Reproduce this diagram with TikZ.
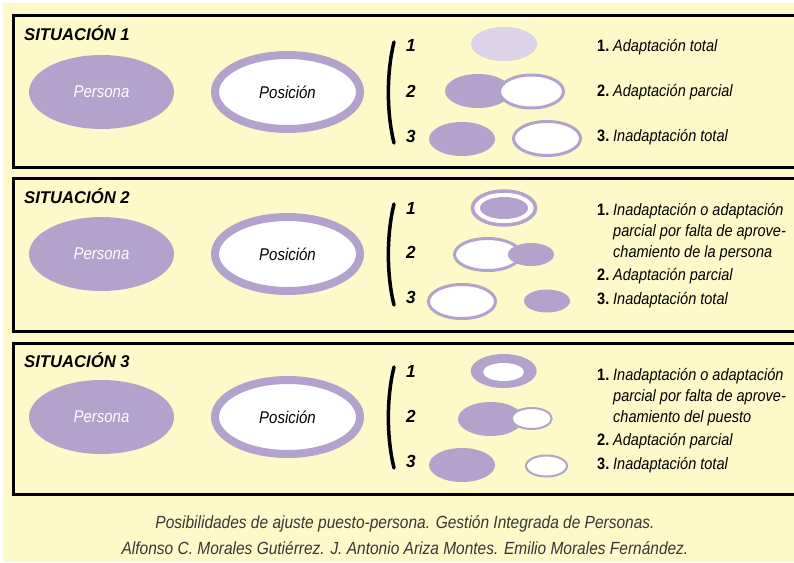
\documentclass[tikz,border=0pt]{standalone}
\usepackage{fontspec}
\setmainfont[FakeStretch=0.88]{Liberation Sans}
\newfontfamily\titlefont[FakeStretch=0.98]{Liberation Sans}
\definecolor{lilac}{RGB}{179,162,204}
\definecolor{palelilac}{RGB}{220,211,232}
\definecolor{bgyellow}{RGB}{254,249,200}
\definecolor{capgray}{RGB}{55,55,55}
\begin{document}
\begin{tikzpicture}[x=1pt,y=-1pt,
  box/.style={draw=black,line width=3pt},
  brk/.style={draw=black,line width=3.5pt,line cap=round},
  ring/.style={draw=lilac,fill=white,line width=3pt},
  thinring/.style={draw=lilac,fill=white,line width=2pt},
  bigring/.style={draw=lilac,fill=white,line width=8pt},
  title/.style={anchor=base west,inner sep=0pt,font=\titlefont\fontsize{17}{20}\selectfont\bfseries\itshape},
  num/.style={anchor=base,inner sep=0pt,font=\titlefont\fontsize{17.5}{20}\selectfont\bfseries\itshape},
  pers/.style={inner sep=0pt,text=white,font=\fontsize{17}{20}\selectfont\itshape},
  posi/.style={inner sep=0pt,text=black,font=\fontsize{17}{20}\selectfont\itshape},
  lnum/.style={anchor=base west,inner sep=0pt,font=\fontsize{16.5}{20}\selectfont\bfseries},
  ltxt/.style={anchor=base west,inner sep=0pt,font=\fontsize{16.5}{20}\selectfont\itshape},
  captext/.style={anchor=base,inner sep=0pt,text=capgray,font=\fontsize{17.6}{20}\selectfont\itshape}]
\clip (0,0) rectangle (794,562);
\fill[white] (0,0) rectangle (794,562);
\fill[bgyellow] (3,3) rectangle (794,562);
% boxes
\draw[box] (13,15) rectangle (810,167);
\draw[box] (13,178) rectangle (810,331);
\draw[box] (13,343) rectangle (810,494);
% ---------- Situation 1
\node[title] (t1) at (24,40.5) {SITUACIÓN 1};
\fill[lilac] (101.5,92) ellipse (72.5pt and 37pt);
\node[pers] (p1) at (101.5,92) {Persona};
\draw[bigring] (287.5,92) ellipse (72.5pt and 37pt);
\node[posi] (q1) at (287.5,92) {Posición};
\draw[brk] (394,42) .. controls (386.5,72) and (386.5,113) .. (394,143);
\node[num] (n11) at (411,51.5) {1};
\node[num] (n12) at (411,97) {2};
\node[num] (n13) at (411,142.5) {3};
\fill[palelilac] (504,44) ellipse (33pt and 17pt);
\fill[lilac] (478,91) ellipse (33pt and 17pt);
\draw[ring] (531.5,91.5) ellipse (32pt and 16.5pt);
\fill[lilac] (462,139) ellipse (33pt and 17pt);
\draw[ring] (547,138.5) ellipse (33.5pt and 17pt);
\node[lnum] (a11) at (597,51) {1.};
\node[ltxt] (b11) at (613,51) {Adaptación total};
\node[lnum] (a12) at (597,96) {2.};
\node[ltxt] (b12) at (613,96) {Adaptación parcial};
\node[lnum] (a13) at (597,141.5) {3.};
\node[ltxt] (b13) at (613,141.5) {Inadaptación total};
% ---------- Situation 2
\node[title] (t2) at (24,203) {SITUACIÓN 2};
\fill[lilac] (101.5,254) ellipse (72.5pt and 37pt);
\node[pers] (p2) at (101.5,254) {Persona};
\draw[bigring] (287.5,254) ellipse (72.5pt and 37pt);
\node[posi] (q2) at (287.5,254) {Posición};
\draw[brk] (394,204) .. controls (386.5,234) and (386.5,275) .. (394,305);
\node[num] (n21) at (411,214) {1};
\node[num] (n22) at (411,258.5) {2};
\node[num] (n23) at (411,303.5) {3};
\draw[ring,line width=3.5pt] (504,208) ellipse (31.5pt and 17pt);
\fill[lilac] (504,208) ellipse (24pt and 11pt);
\draw[ring] (487.5,254.5) ellipse (33pt and 16pt);
\fill[lilac] (531,254.5) ellipse (23pt and 11.5pt);
\draw[ring] (462,301.5) ellipse (33.5pt and 17pt);
\fill[lilac] (547,301) ellipse (23pt and 11.5pt);
\node[lnum] (a21) at (597,215) {1.};
\node[ltxt] (b21) at (613,215) {Inadaptación o adaptación};
\node[ltxt] (c21) at (613,236.5) {parcial por falta de aprove-};
\node[ltxt] (d21) at (613,257.5) {chamiento de la persona};
\node[lnum] (a22) at (597,280) {2.};
\node[ltxt] (b22) at (613,280) {Adaptación parcial};
\node[lnum] (a23) at (597,304) {3.};
\node[ltxt] (b23) at (613,304) {Inadaptación total};
% ---------- Situation 3
\node[title] (t3) at (24,367) {SITUACIÓN 3};
\fill[lilac] (101.5,417) ellipse (72.5pt and 37pt);
\node[pers] (p3) at (101.5,417) {Persona};
\draw[bigring] (287.5,417) ellipse (72.5pt and 37pt);
\node[posi] (q3) at (287.5,417) {Posición};
\draw[brk] (394,367) .. controls (386.5,397) and (386.5,438) .. (394,468);
\node[num] (n31) at (411,377.5) {1};
\node[num] (n32) at (411,422) {2};
\node[num] (n33) at (411,467) {3};
\fill[lilac] (503.7,371) ellipse (33pt and 17pt);
\fill[white] (503.5,372) ellipse (20.5pt and 9pt);
\fill[lilac] (490.5,419) ellipse (32.5pt and 17pt);
\draw[thinring] (531.7,418.5) ellipse (20pt and 10.5pt);
\fill[lilac] (462,465) ellipse (33pt and 17pt);
\draw[thinring] (546.5,466) ellipse (20.5pt and 10.5pt);
\node[lnum] (a31) at (597,380) {1.};
\node[ltxt] (b31) at (613,380) {Inadaptación o adaptación};
\node[ltxt] (c31) at (613,401.5) {parcial por falta de aprove-};
\node[ltxt] (d31) at (613,422.5) {chamiento del puesto};
\node[lnum] (a32) at (597,445) {2.};
\node[ltxt] (b32) at (613,445) {Adaptación parcial};
\node[lnum] (a33) at (597,469) {3.};
\node[ltxt] (b33) at (613,469) {Inadaptación total};
% caption
\node[captext] (cap1) at (405,528) {Posibilidades de ajuste puesto-persona. Gestión Integrada de Personas.};
\node[captext] (cap2) at (405,554) {Alfonso C. Morales Gutiérrez. J. Antonio Ariza Montes. Emilio Morales Fernández.};
\end{tikzpicture}
\end{document}
